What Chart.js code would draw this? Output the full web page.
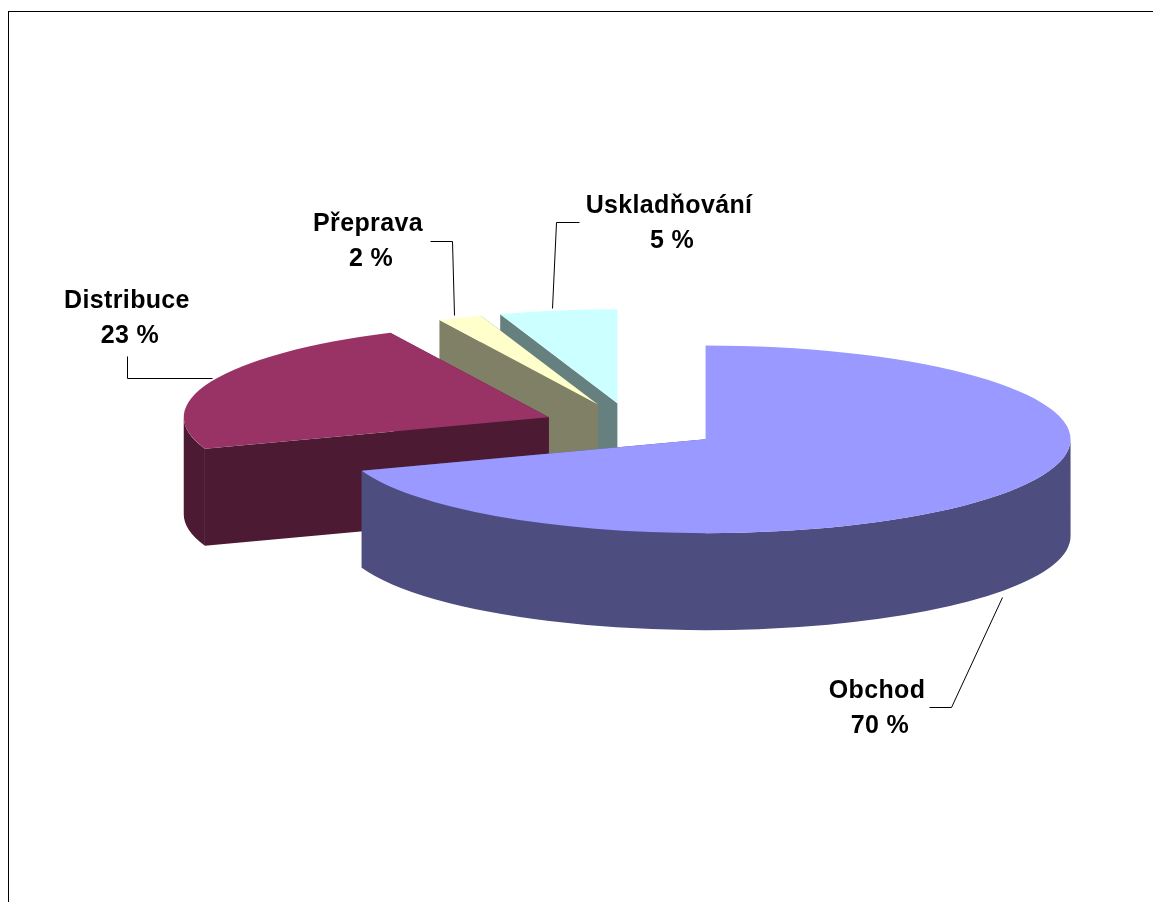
<!DOCTYPE html>
<html>
<head>
<meta charset="utf-8">
<style>
  html, body { margin: 0; background: #fff; overflow: hidden; }
  #frame { position: absolute; left: 8px; top: 11px; right: 0; bottom: 0; border-top: 1px solid #000; border-left: 1px solid #000; }
  #pie { position: absolute; left: 0; top: 0; }
</style>
<script src="https://cdn.jsdelivr.net/npm/chart.js@4"></script>
</head>
<body>
<div id="frame"></div>
<canvas id="pie" width="1153" height="902"></canvas>
<script>
const categories = ['Obchod', 'Distribuce', 'Přeprava', 'Uskladňování'];
// labels show them rounded
const shares = [69.55, 23.3, 1.95, 5.2];

const topColors = ['#9999ff', '#993366', '#ffffcc', '#ccffff'];
const sideColors = ['#4d4d80', '#4d1a33', '#808066', '#668080'];

// 3D look: squash the circle and extrude it downwards
const tilt = 0.257;
const depth = 97;
const explode = 90;
const drawOrder = [3, 2, 1, 0]; // back to front

// text anchors and leader lines, one per category
const labelPos = [
  { x: 877, y: 698, line: [[929, 707], [951, 707], [1002, 597]] },
  { x: 127, y: 308, line: [[127, 356], [127, 378], [212, 378]] },
  { x: 368, y: 231, line: [[430, 241], [452, 241], [454, 315]] },
  { x: 669, y: 213, line: [[579, 222], [556, 222], [552, 308]] },
];

function drawSlice(ctx, arc, i) {
  const r = arc.outerRadius;
  const a0 = arc.startAngle;
  const a1 = arc.endAngle;
  const mid = (a0 + a1) / 2;
  const cx = arc.x + Math.cos(mid) * arc.options.offset;
  const cy = arc.y + Math.sin(mid) * arc.options.offset * tilt;
  const px = (a) => cx + Math.cos(a) * r;
  const py = (a) => cy + Math.sin(a) * r * tilt;

  ctx.fillStyle = sideColors[i];

  // cut faces, back one first
  [a1, a0].forEach((a) => {
    ctx.beginPath();
    ctx.moveTo(cx, cy);
    ctx.lineTo(px(a), py(a));
    ctx.lineTo(px(a), py(a) + depth);
    ctx.lineTo(cx, cy + depth);
    ctx.closePath();
    ctx.fill();
  });

  // outer wall, only the part that faces the viewer
  const full = Math.PI * 2;
  for (let k = -1; k <= 1; k++) {
    const from = Math.max(a0, k * full);
    const to = Math.min(a1, k * full + Math.PI);
    if (to <= from) continue;
    ctx.beginPath();
    ctx.ellipse(cx, cy, r, r * tilt, 0, from, to);
    ctx.ellipse(cx, cy + depth, r, r * tilt, 0, to, from, true);
    ctx.closePath();
    ctx.fill();
  }

  // top face
  ctx.fillStyle = arc.options.backgroundColor;
  ctx.beginPath();
  ctx.moveTo(cx, cy);
  ctx.ellipse(cx, cy, r, r * tilt, 0, a0, a1);
  ctx.closePath();
  ctx.fill();
}

const pie3d = {
  id: 'pie3d',
  beforeDatasetDraw(chart, args) {
    const arcs = chart.getDatasetMeta(args.index).data;
    drawOrder.forEach((i) => drawSlice(chart.ctx, arcs[i], i));
    return false;
  },
  afterDraw(chart) {
    const ctx = chart.ctx;
    ctx.save();
    ctx.strokeStyle = '#000';
    ctx.lineWidth = 1;
    ctx.fillStyle = '#000';
    ctx.font = 'bold 25px "Liberation Sans"';
    ctx.letterSpacing = '0.35px';
    ctx.textAlign = 'center';
    categories.forEach((name, i) => {
      const pos = labelPos[i];
      ctx.beginPath();
      pos.line.forEach(([x, y], n) => (n ? ctx.lineTo(x + 0.5, y + 0.5) : ctx.moveTo(x + 0.5, y + 0.5)));
      ctx.stroke();
      ctx.fillText(name, pos.x, pos.y);
      ctx.fillText(Math.round(shares[i]) + ' %', pos.x + 3, pos.y + 35);
    });
    ctx.restore();
  },
};

new Chart(document.getElementById('pie'), {
  type: 'pie',
  data: {
    labels: categories,
    datasets: [{ data: shares, backgroundColor: topColors, borderWidth: 0, offset: explode, hoverOffset: 0 }],
  },
  options: {
    responsive: false,
    animation: false,
    radius: 365,
    layout: { padding: { left: 111, bottom: 50 } },
    plugins: { legend: { display: false }, tooltip: { enabled: false } },
  },
  plugins: [pie3d],
});
</script>
</body>
</html>
